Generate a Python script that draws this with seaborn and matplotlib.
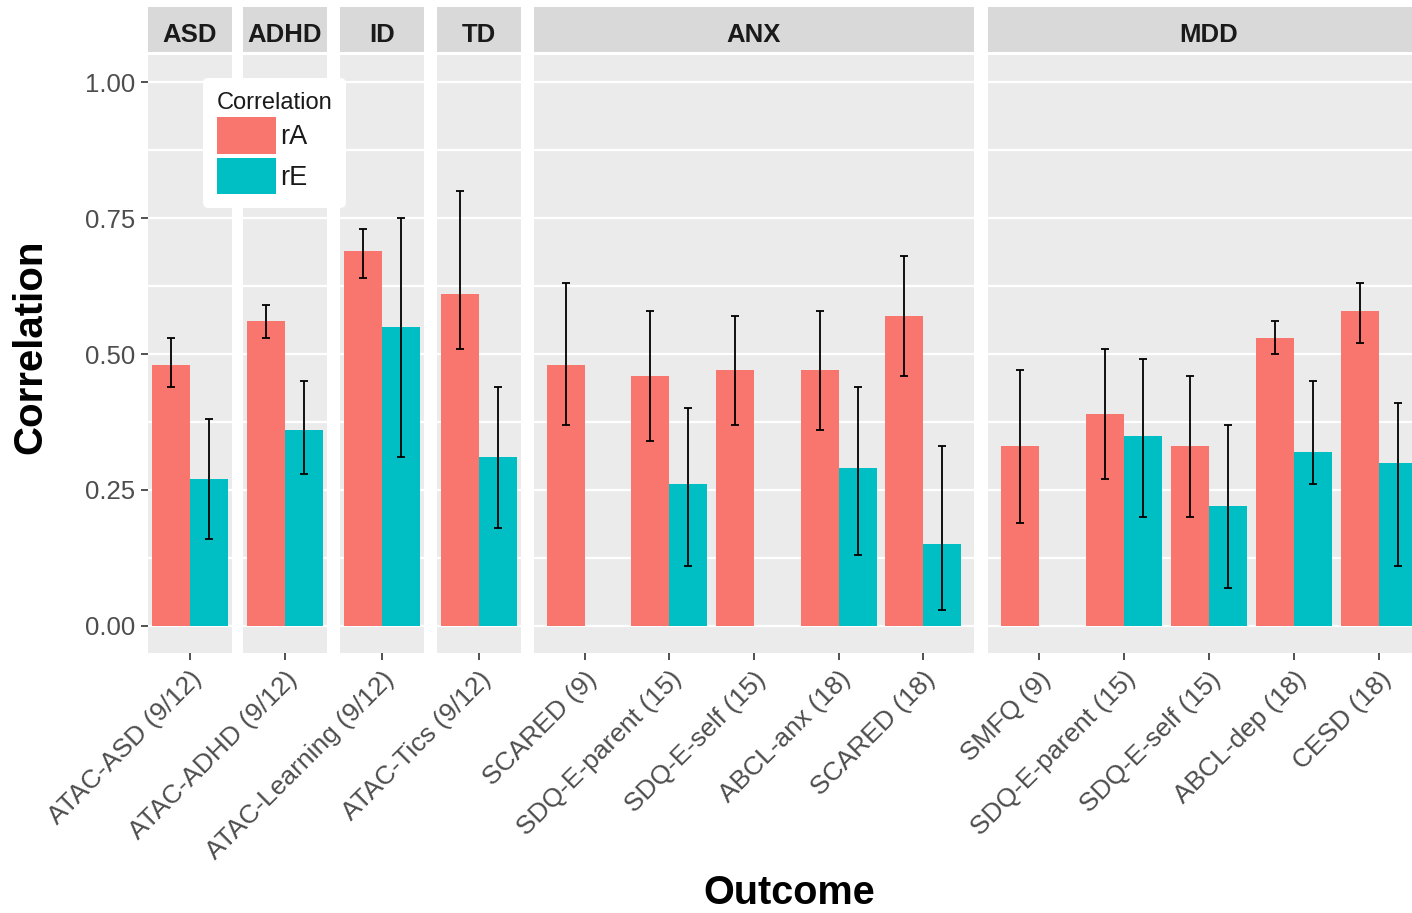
import pandas as pd
import matplotlib
matplotlib.use('Agg')
import matplotlib.pyplot as plt
import matplotlib.transforms as mtransforms
from matplotlib.patches import Patch
import seaborn as sns

# facet (disorder) for each outcome
group = ['ASD', 'ADHD', 'ID', 'TD',
         'ANX', 'ANX', 'ANX', 'ANX', 'ANX',
         'MDD', 'MDD', 'MDD', 'MDD', 'MDD']
outcome = ['ATAC-ASD (9/12)', 'ATAC-ADHD (9/12)', 'ATAC-Learning (9/12)', 'ATAC-Tics (9/12)',
           'SCARED (9)', 'SDQ-E-parent (15)', 'SDQ-E-self (15)', 'ABCL-anx (18)', 'SCARED (18)',
           'SMFQ (9)', 'SDQ-E-parent (15)', 'SDQ-E-self (15)', 'ABCL-dep (18)', 'CESD (18)']

# genetic correlation (rA) with 95% CI
rA = [0.48, 0.56, 0.69, 0.61, 0.48, 0.46, 0.47, 0.47, 0.57, 0.33, 0.39, 0.33, 0.53, 0.58]
rA_low = [0.44, 0.53, 0.64, 0.51, 0.37, 0.34, 0.37, 0.36, 0.46, 0.19, 0.27, 0.20, 0.50, 0.52]
rA_high = [0.53, 0.59, 0.73, 0.80, 0.63, 0.58, 0.57, 0.58, 0.68, 0.47, 0.51, 0.46, 0.56, 0.63]

# environmental correlation (rE) with 95% CI, None where not estimated
rE = [0.27, 0.36, 0.55, 0.31, None, 0.26, None, 0.29, 0.15, None, 0.35, 0.22, 0.32, 0.30]
rE_low = [0.16, 0.28, 0.31, 0.18, None, 0.11, None, 0.13, 0.03, None, 0.20, 0.07, 0.26, 0.11]
rE_high = [0.38, 0.45, 0.75, 0.44, None, 0.40, None, 0.44, 0.33, None, 0.49, 0.37, 0.45, 0.41]

panels = ['ASD', 'ADHD', 'ID', 'TD', 'ANX', 'MDD']
y_ticks = [0.00, 0.25, 0.50, 0.75, 1.00]
y_tick_labels = ['0.00', '0.25', '0.50', '0.75', '1.00']

colors = {'rA': '#F8766D', 'rE': '#00BFC4'}

# long table for seaborn
rows = []
for i in range(len(outcome)):
    rows.append([group[i], outcome[i], 'rA', rA[i], rA_low[i], rA_high[i]])
    if rE[i] is not None:
        rows.append([group[i], outcome[i], 'rE', rE[i], rE_low[i], rE_high[i]])
df = pd.DataFrame(rows, columns=['group', 'outcome', 'Correlation', 'r', 'low', 'high'])

plt.rcParams['font.family'] = ['Liberation Sans', 'DejaVu Sans']

W, H = 1412, 913
fig = plt.figure(figsize=(W / 100, H / 100), dpi=100)


def box(left, top, width, height):
    return [left / W, 1 - (top + height) / H, width / W, height / H]


# panel geometry in pixels (the last panel runs off the right edge)
panel_left = [148, 243, 340, 437, 534, 988]
panel_width = [84, 84, 84, 84, 440, 424]
panel_xlim = [(-0.5, 0.5)] * 4 + [(-0.6, 4.6), (-0.6, 4.39)]
panel_top, panel_bottom = 55, 653
half = 0.225

for k, g in enumerate(panels):
    sub = df[df['group'] == g]
    order = [o for o, gg in zip(outcome, group) if gg == g]
    ax = fig.add_axes(box(panel_left[k], panel_top, panel_width[k], panel_bottom - panel_top))
    ax.set_facecolor('#EBEBEB')
    sns.barplot(data=sub, x='outcome', y='r', hue='Correlation', order=order,
                hue_order=['rA', 'rE'], palette=colors, width=0.9, saturation=1,
                errorbar=None, legend=False, linewidth=0, ax=ax)
    # error bars
    for _, row in sub.iterrows():
        xpos = order.index(row['outcome']) + (-half if row['Correlation'] == 'rA' else half)
        ax.errorbar(xpos, row['r'], yerr=[[row['r'] - row['low']], [row['high'] - row['r']]],
                    fmt='none', ecolor='black', elinewidth=1.3, capsize=3, capthick=1.3, zorder=5)
    ax.set_xlim(*panel_xlim[k])
    ax.set_ylim(-0.05, 1.05)
    ax.set_yticks(y_ticks)
    ax.set_yticks([0.125, 0.375, 0.625, 0.875], minor=True)
    ax.yaxis.grid(True, which='both', color='white', linewidth=1.6)
    ax.xaxis.grid(False)
    ax.set_axisbelow(True)
    for s in ax.spines.values():
        s.set_visible(False)
    ax.set_xlabel('')
    ax.set_ylabel('')
    ax.tick_params(axis='x', length=5, width=1.2, color='#333333', labelsize=19,
                   labelcolor='#4D4D4D', pad=5)
    plt.setp(ax.get_xticklabels(), rotation=45, ha='right', va='top', rotation_mode='anchor')
    ax.tick_params(axis='y', which='minor', length=0)
    if k == 0:
        ax.set_yticklabels(y_tick_labels)
        ax.tick_params(axis='y', length=5, width=1.2, color='#333333', labelsize=18.5,
                       labelcolor='#4D4D4D', pad=4)
    else:
        ax.tick_params(axis='y', length=0, labelleft=False)

    # facet strip
    sax = fig.add_axes(box(panel_left[k], 7, panel_width[k], 45))
    sax.set_facecolor('#D9D9D9')
    sax.set_xlim(*panel_xlim[k])
    sax.set_xticks([])
    sax.set_yticks([])
    for s in sax.spines.values():
        s.set_visible(False)
    trans = mtransforms.blended_transform_factory(sax.transData, sax.transAxes)
    sax.text((len(order) - 1) / 2, 0.22, g, transform=trans, ha='center', va='baseline',
             fontsize=18.5, fontweight='bold', color='#1A1A1A')

# axis titles
fig.text(30 / W, 1 - 347 / H, 'Correlation', rotation=90, ha='center', va='center',
         fontsize=29, fontweight='bold', color='black')
fig.text(789 / W, 1 - 904 / H, 'Outcome', ha='center', va='baseline',
         fontsize=28.5, fontweight='bold', color='black')

# legend
handles = [Patch(facecolor=colors['rA'], edgecolor='none', label='rA'),
           Patch(facecolor=colors['rE'], edgecolor='none', label='rE')]
leg = fig.legend(handles=handles, title='Correlation', loc='upper left',
                 bbox_to_anchor=(203 / W, 1 - 78 / H), frameon=True, fontsize=19.5,
                 title_fontsize=17, handlelength=2.2, handleheight=1.7, handletextpad=0.15,
                 labelspacing=0.14, borderpad=0.5, borderaxespad=0)
leg.get_frame().set_facecolor('white')
leg.get_frame().set_edgecolor('none')
leg.get_frame().set_alpha(1)
leg._legend_box.align = 'left'
leg.get_title().set_color('#1A1A1A')
for t in leg.get_texts():
    t.set_color('#1A1A1A')

fig.savefig('out.png', dpi=100, facecolor='white')
